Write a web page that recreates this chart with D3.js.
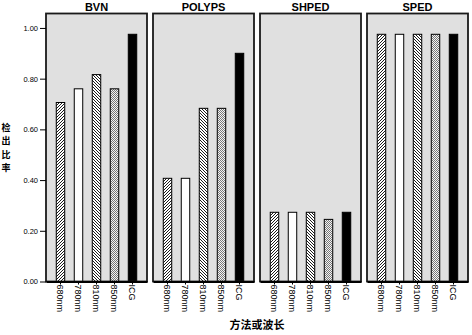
<!DOCTYPE html>
<html><head><meta charset="utf-8">
<script src="https://cdn.jsdelivr.net/npm/d3@7"></script>
<style>
body{margin:0;background:#fff;}
svg{display:block;}
</style></head>
<body>
<svg id="chart" width="472" height="335"></svg>
<script>
const panels = ["BVN", "POLYPS", "SHPED", "SPED"];
const categories = ["680nm", "780nm", "810nm", "850nm", "ICG"];
const valuesBVN = [0.706, 0.760, 0.816, 0.760, 0.975];
const valuesPOLYPS = [0.407, 0.407, 0.683, 0.683, 0.900];
const valuesSHPED = [0.273, 0.273, 0.273, 0.245, 0.273];
const valuesSPED = [0.975, 0.975, 0.975, 0.975, 0.975];
const yTicks = [0, 0.2, 0.4, 0.6, 0.8, 1.0];
const yTitle = "检出比率";
const xTitle = "方法或波长";

const seriesValues = [valuesBVN, valuesPOLYPS, valuesSHPED, valuesSPED];
const svg = d3.select("#chart");
const defs = svg.append("defs");

// patterns
const pUp = defs.append("pattern").attr("id","hatchUp").attr("patternUnits","userSpaceOnUse").attr("width",3).attr("height",3);
pUp.append("rect").attr("width",3).attr("height",3).attr("fill","#fff");
pUp.append("path").attr("d","M-1,1 L1,-1 M0,3 L3,0 M2,4 L4,2").attr("stroke","#000").attr("stroke-width",0.9);
const pDown = defs.append("pattern").attr("id","hatchDown").attr("patternUnits","userSpaceOnUse").attr("width",3).attr("height",3);
pDown.append("rect").attr("width",3).attr("height",3).attr("fill","#fff");
pDown.append("path").attr("d","M-1,2 L1,4 M0,0 L3,3 M2,-1 L4,1").attr("stroke","#000").attr("stroke-width",0.9);
const pChk = defs.append("pattern").attr("id","checker").attr("patternUnits","userSpaceOnUse").attr("width",2).attr("height",2);
pChk.append("rect").attr("width",2).attr("height",2).attr("fill","#f4f4f4");
pChk.append("rect").attr("width",1).attr("height",1).attr("fill","#777");
pChk.append("rect").attr("x",1).attr("y",1).attr("width",1).attr("height",1).attr("fill","#777");

const fills = ["url(#hatchUp)", "#fff", "url(#hatchDown)", "url(#checker)", "#000"];

const plotTop = 13.5, plotBottom = 281.5, plotLeft = 46, plotRight = 468;
const y = d3.scaleLinear().domain([0, 1.057]).range([plotBottom, plotTop]);
const px = d3.scaleBand().domain(panels).range([plotLeft, plotRight]).paddingInner(6/107).paddingOuter(0);

panels.forEach((p, i) => {
  const x0 = px(p), w = px.bandwidth();
  const g = svg.append("g");
  g.append("rect").attr("x", x0).attr("y", plotTop).attr("width", w).attr("height", plotBottom - plotTop)
    .attr("fill", "#e0e0e0");
  const x = d3.scaleBand().domain(categories).range([x0, x0 + w]).paddingInner(0.53).paddingOuter(0.57);
  g.selectAll("rect.bar").data(categories).join("rect").attr("class","bar")
    .attr("x", d => x(d)).attr("width", x.bandwidth())
    .attr("y", (d, j) => y(seriesValues[i][j]))
    .attr("height", (d, j) => y(0) - y(seriesValues[i][j]))
    .attr("fill", (d, j) => fills[j]).attr("stroke", "#000").attr("stroke-width", 1);
  g.append("rect").attr("x", x0).attr("y", plotTop).attr("width", w).attr("height", plotBottom - plotTop)
    .attr("fill", "none").attr("stroke", "#1a1a1a").attr("stroke-width", 1.8);
  // x axis
  const ax = svg.append("g").attr("transform", `translate(0,${plotBottom})`)
    .call(d3.axisBottom(x).tickSize(3).tickPadding(2).tickSizeOuter(0));
  ax.select(".domain").attr("stroke", "#000").attr("stroke-width", 1.8);
  ax.selectAll(".tick line").attr("stroke", "#000");
  ax.selectAll(".tick text")
    .attr("transform", "rotate(90)")
    .attr("text-anchor", "start")
    .attr("x", 3).attr("y", 0).attr("dy", "0.35em")
    .attr("font-family", "Liberation Sans, Arial, sans-serif").attr("font-size", 9).attr("fill", "#000");
  // panel title
  svg.append("text").attr("x", x0 + w / 2).attr("y", 11).attr("text-anchor", "middle")
    .attr("font-family", "Liberation Sans, Arial, sans-serif").attr("font-weight", "bold")
    .attr("font-size", 11).text(p);
});

// y axis
const ay = svg.append("g").attr("transform", `translate(${plotLeft},0)`)
  .call(d3.axisLeft(y).tickValues(yTicks).tickFormat(d3.format(".2f")).tickSize(6).tickPadding(2).tickSizeOuter(0));
ay.select(".domain").remove();
ay.selectAll(".tick line").attr("stroke", "#000");
ay.selectAll(".tick text").attr("font-family", "Liberation Sans, Arial, sans-serif").attr("font-size", 7.5).attr("fill", "#000");

// y title, stacked characters
Array.from(yTitle).forEach((c, k) => {
  svg.append("text").attr("font-family", "Noto Sans CJK SC, sans-serif").attr("font-weight", "bold")
    .attr("font-size", 9).attr("text-anchor", "middle")
    .attr("x", 6).attr("y", 131 + k * 13.3).text(c);
});

// x title
svg.append("text").attr("x", 257).attr("y", 329).attr("text-anchor", "middle")
  .attr("font-family", "Noto Sans CJK SC, sans-serif").attr("font-weight", "bold")
  .attr("font-size", 11).text(xTitle);
</script>
</body></html>
